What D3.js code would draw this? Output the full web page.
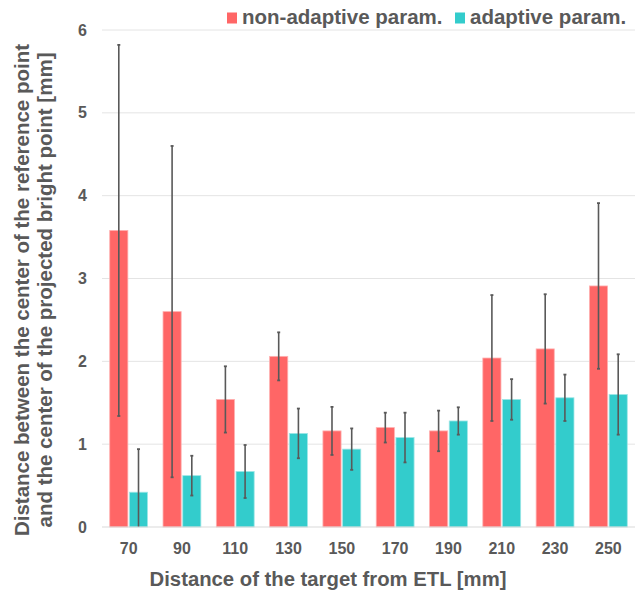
<!DOCTYPE html>
<html><head><meta charset="utf-8">
<script src="https://cdn.jsdelivr.net/npm/d3@7"></script>
<style>body{margin:0;background:#fff}svg{display:block;font-family:"Liberation Sans",Arial,sans-serif;font-weight:bold}</style>
</head><body><svg id="c" width="635" height="591"></svg>
<script>
const categories = ["70","90","110","130","150","170","190","210","230","250"];
const seriesNames = ["non-adaptive param.","adaptive param."];
const nonAdaptive = [3.58,2.60,1.54,2.06,1.16,1.20,1.16,2.04,2.15,2.91];
const nonAdaptiveErr = [2.24,2.00,0.40,0.29,0.29,0.18,0.245,0.76,0.66,1.00];
const adaptive = [0.42,0.62,0.67,1.13,0.94,1.08,1.28,1.54,1.56,1.60];
const adaptiveErr = [0.52,0.24,0.32,0.30,0.25,0.30,0.165,0.245,0.28,0.485];
const yTicks = [0,1,2,3,4,5,6];
const colors = ["#FF6666","#33CCCC"];

const svg = d3.select("#c");
const m = {l:102, r:635, t:30, b:527};
const x0 = d3.scaleBand().domain(categories).range([m.l, m.r]).paddingInner(0.29).paddingOuter(0.145);
const x1 = d3.scaleBand().domain([0,1]).range([0, x0.bandwidth()]).paddingInner(0.08);
const y = d3.scaleLinear().domain([0,6]).range([m.b, m.t]);

// gridlines
svg.append("g").selectAll("line").data(yTicks.filter(d=>d>0)).join("line")
  .attr("x1", m.l).attr("x2", m.r).attr("y1", d=>y(d)).attr("y2", d=>y(d))
  .attr("stroke", "#e4e4e4").attr("stroke-width", 1);

// y axis labels
const ya = svg.append("g").attr("transform", `translate(${m.l},0)`)
  .call(d3.axisLeft(y).tickValues(yTicks).tickSize(0).tickPadding(15).tickFormat(d3.format("d")));
ya.select(".domain").remove();
ya.selectAll("text").attr("fill","#595959").style("font-size","16px").style("font-family","Liberation Sans, Arial, sans-serif").style("font-weight","bold");

const data = categories.map((c,i)=>({c, vals:[
  {s:0, v:nonAdaptive[i], e:nonAdaptiveErr[i]},
  {s:1, v:adaptive[i], e:adaptiveErr[i]}]}));

const g = svg.append("g").selectAll("g").data(data).join("g")
  .attr("transform", d=>`translate(${x0(d.c)},0)`);
g.selectAll("rect").data(d=>d.vals).join("rect")
  .attr("x", d=>x1(d.s)).attr("width", x1.bandwidth())
  .attr("y", d=>y(d.v)).attr("height", d=>y(0)-y(d.v))
  .attr("fill", d=>colors[d.s])
  .attr("stroke", d=>d.s===0?"#ffb0b0":"#9ee6e6").attr("stroke-width",0.8);

// error bars
const eb = g.selectAll("g.eb").data(d=>d.vals).join("g").attr("class","eb");
eb.append("line")
  .attr("x1", d=>x1(d.s)+x1.bandwidth()/2).attr("x2", d=>x1(d.s)+x1.bandwidth()/2)
  .attr("y1", d=>y(Math.max(0,d.v-d.e))).attr("y2", d=>y(d.v+d.e))
  .attr("stroke","#595959").attr("stroke-width",1.6);
eb.selectAll("line.cap").data(d=>{const a=[{s:d.s,yv:d.v+d.e}]; if(d.v-d.e>0) a.push({s:d.s,yv:d.v-d.e}); return a;}).join("line").attr("class","cap")
  .attr("x1", d=>x1(d.s)+x1.bandwidth()/2-1.5).attr("x2", d=>x1(d.s)+x1.bandwidth()/2+1.5)
  .attr("y1", d=>y(d.yv)).attr("y2", d=>y(d.yv))
  .attr("stroke","#595959").attr("stroke-width",1.8);

// x axis baseline
svg.append("line").attr("x1", m.l).attr("x2", m.r).attr("y1", y(0)).attr("y2", y(0))
  .attr("stroke","#d9d9d9").attr("stroke-width",1);

const xa = svg.append("g").attr("transform", `translate(0,${m.b})`)
  .call(d3.axisBottom(x0).tickSize(0).tickPadding(16));
xa.select(".domain").remove();
xa.selectAll("text").attr("fill","#595959").style("font-size","16px").style("font-family","Liberation Sans, Arial, sans-serif").style("font-weight","bold");

// axis titles
svg.append("text").attr("x", 328).attr("y", 586).attr("text-anchor","middle")
  .attr("fill","#595959").style("font-size","20.3px").text("Distance of the target from ETL [mm]");
const yt = svg.append("text").attr("transform","translate(29,290) rotate(-90)").attr("text-anchor","middle")
  .attr("fill","#595959").style("font-size","20.5px");
yt.append("tspan").attr("x",0).attr("dy",0).text("Distance between the center of the reference point");
yt.append("tspan").attr("x",0).attr("dy",23).text("and the center of the projected bright point [mm]");

// legend
const leg = svg.append("g");
const lx = [227, 455];
seriesNames.forEach((n,i)=>{
  leg.append("rect").attr("x", lx[i]).attr("y", 12.5).attr("width", 10).attr("height", 11).attr("fill", colors[i]);
  leg.append("text").attr("x", lx[i]+15).attr("y", 24).attr("fill","#595959").style("font-size","20.5px").text(n);
});
</script></body></html>
